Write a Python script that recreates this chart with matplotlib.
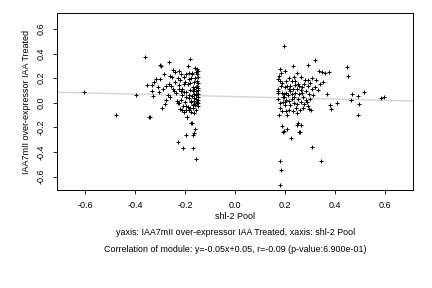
import matplotlib
matplotlib.use("Agg")
import matplotlib.pyplot as plt
import numpy as np

plt.rcParams['font.family'] = ['Liberation Sans', 'DejaVu Sans']

# left cluster (negative x)
left_x = [-0.603, -0.475, -0.395, -0.359, -0.341, -0.351, -0.333, -0.333, -0.329, -0.325,
          -0.316, -0.300, -0.303, -0.283, -0.291, -0.277, -0.279, -0.300, -0.297, -0.263,
          -0.264, -0.260, -0.255, -0.268, -0.248, -0.239, -0.225, -0.252, -0.240, -0.248,
          -0.243, -0.235, -0.225, -0.220, -0.217, -0.211, -0.205, -0.204, -0.224, -0.221,
          -0.211, -0.205, -0.191, -0.183, -0.177, -0.181, -0.189, -0.183, -0.172, -0.160,
          -0.151, -0.156, -0.152, -0.176, -0.172, -0.195, -0.167, -0.164, -0.159, -0.227,
          -0.209, -0.168, -0.155, -0.197, -0.171, -0.343, -0.191, -0.233, -0.217, -0.196,
          -0.187, -0.181, -0.167, -0.160, -0.153, -0.147, -0.210, -0.176, -0.165, -0.200,
          -0.190, -0.180, -0.165, -0.153, -0.147, -0.156, -0.147, -0.225, -0.215, -0.205,
          -0.195, -0.180, -0.170, -0.163, -0.154, -0.148, -0.158, -0.211, -0.186, -0.186,
          -0.166, -0.157, -0.148, -0.152, -0.229, -0.199, -0.176, -0.165, -0.195, -0.150,
          -0.158, -0.150, -0.170, -0.160, -0.150, -0.148, -0.175, -0.185, -0.165, -0.151,
          -0.172, -0.163, -0.158, -0.150, -0.170, -0.198, -0.230, -0.215, -0.260, -0.275,
          -0.290, -0.310]
left_y = [0.085, -0.098, 0.063, 0.375, -0.115, 0.145, 0.145, 0.098, 0.055, 0.170,
          0.190, 0.190, 0.085, 0.230, -0.041, 0.022, -0.014, 0.303, 0.300, 0.334,
          0.156, 0.044, 0.139, 0.066, 0.270, 0.248, 0.257, 0.207, 0.172, 0.115,
          0.098, 0.082, 0.145, 0.186, 0.096, 0.115, 0.213, 0.153, -0.003, -0.049,
          -0.057, -0.074, -0.117, -0.060, 0.014, 0.352, 0.300, 0.243, 0.238, 0.281,
          0.276, 0.248, 0.230, -0.166, -0.163, -0.265, -0.260, -0.248, -0.216, -0.320,
          -0.366, -0.366, -0.459, 0.235, 0.235, -0.112, -0.112, 0.016, 0.026, -0.030,
          -0.035, -0.046, -0.040, -0.018, 0.000, -0.005, -0.026, -0.076, -0.080, 0.167,
          0.150, 0.160, 0.170, 0.179, 0.158, 0.130, 0.117, 0.108, 0.098, 0.090,
          0.088, 0.104, 0.092, 0.075, 0.070, 0.074, 0.062, 0.066, 0.066, 0.040,
          0.040, 0.030, 0.022, 0.003, 0.000, 0.008, 0.009, 0.012, 0.048, 0.050,
          0.095, 0.100, 0.130, 0.205, 0.210, 0.258, 0.200, 0.195, 0.115, 0.140,
          0.055, -0.010, -0.062, -0.025, -0.020, -0.055, 0.200, 0.230, 0.220, 0.140,
          0.110, 0.130]

# right cluster (positive x)
right_x = [0.197, 0.319, 0.293, 0.232, 0.181, 0.199, 0.184, 0.447, 0.452, 0.337,
           0.349, 0.360, 0.377, 0.249, 0.177, 0.173, 0.205, 0.227, 0.241, 0.251,
           0.257, 0.265, 0.281, 0.292, 0.308, 0.325, 0.353, 0.188, 0.209, 0.221,
           0.239, 0.268, 0.307, 0.319, 0.333, 0.173, 0.173, 0.173, 0.187, 0.195,
           0.204, 0.220, 0.228, 0.241, 0.257, 0.268, 0.284, 0.297, 0.369, 0.469,
           0.493, 0.516, 0.465, 0.584, 0.596, 0.173, 0.192, 0.205, 0.215, 0.229,
           0.252, 0.284, 0.289, 0.181, 0.201, 0.220, 0.249, 0.273, 0.295, 0.303,
           0.181, 0.187, 0.205, 0.216, 0.249, 0.176, 0.209, 0.381, 0.383, 0.408,
           0.496, 0.493, 0.253, 0.263, 0.248, 0.189, 0.209, 0.195, 0.225, 0.309,
           0.180, 0.344, 0.185, 0.180, 0.192, 0.257, 0.261, 0.210, 0.236, 0.214,
           0.200, 0.230, 0.262, 0.276, 0.290, 0.190, 0.235, 0.262, 0.272, 0.245,
           0.230, 0.260, 0.198, 0.180, 0.215, 0.183, 0.275, 0.300, 0.290, 0.236,
           0.195, 0.300, 0.340, 0.310, 0.246]
right_y = [0.459, 0.344, 0.306, 0.295, 0.276, 0.262, 0.240, 0.287, 0.221, 0.262,
           0.246, 0.238, 0.246, 0.238, 0.221, 0.194, 0.180, 0.178, 0.175, 0.153,
           0.137, 0.213, 0.189, 0.189, 0.202, 0.189, 0.172, 0.158, 0.139, 0.134,
           0.148, 0.131, 0.115, 0.125, 0.107, 0.112, 0.098, 0.080, 0.082, 0.071,
           0.076, 0.093, 0.071, 0.080, 0.071, 0.080, 0.098, 0.071, 0.071, 0.074,
           0.057, 0.084, 0.025, 0.035, 0.049, 0.030, 0.049, 0.025, 0.016, 0.027,
           0.033, 0.022, 0.008, -0.006, 0.006, -0.019, -0.011, -0.043, -0.049, -0.057,
           -0.039, -0.066, -0.066, -0.057, -0.082, -0.101, -0.101, -0.019, -0.052, 0.000,
           -0.008, -0.098, -0.164, -0.180, -0.180, -0.191, -0.210, -0.230, -0.284, -0.358,
           -0.470, -0.470, -0.547, -0.666, -0.238, -0.238, -0.238, 0.060, 0.050, 0.110,
           0.125, 0.115, 0.100, 0.150, 0.140, 0.010, 0.000, 0.010, 0.050, -0.040,
           -0.070, -0.060, -0.020, 0.180, 0.205, 0.140, -0.010, 0.030, -0.030, 0.210,
           0.045, 0.160, 0.150, 0.060, 0.110]

slope = -0.05
intercept = 0.05

x = np.array(left_x + right_x)
y = np.array(left_y + right_y)

fig = plt.figure(figsize=(4.32, 2.88), dpi=100)
ax = fig.add_axes([0.132, 0.34, 0.824, 0.615])

xlim = (-0.712, 0.712)
ax.set_xlim(xlim)
ax.set_ylim(-0.71, 0.73)

lx = np.array(xlim)
ax.plot(lx, slope * lx + intercept, color="#d4d4d4", lw=1.0, zorder=1)
ax.plot(x, y, linestyle="none", marker="+", color="black",
        markersize=3.5, markeredgewidth=0.7, zorder=2)

ax.set_xticks([-0.6, -0.4, -0.2, 0.0, 0.2, 0.4, 0.6])
ax.set_yticks([-0.6, -0.4, -0.2, 0.0, 0.2, 0.4, 0.6])
ax.set_xticklabels(["-0.6", "-0.4", "-0.2", "0.0", "0.2", "0.4", "0.6"])
ax.set_yticklabels(["-0.6", "-0.4", "-0.2", "0.0", "0.2", "0.4", "0.6"],
                   rotation=90, va="center")
ax.tick_params(direction="out", length=3, width=0.6, labelsize=6.5, pad=5)
for s in ax.spines.values():
    s.set_linewidth(0.7)

ax.set_xlabel("shl-2 Pool", fontsize=6.5, labelpad=1.5)
ax.set_ylabel("IAA7mII over-expressor IAA Treated", fontsize=6.5, labelpad=4)

fig.text(0.545, 0.191, "yaxis: IAA7mII over-expressor IAA Treated, xaxis: shl-2 Pool",
         ha="center", va="center", fontsize=6.4)
fig.text(0.545, 0.132,
         "Correlation of module: y=-0.05x+0.05, r=-0.09 (p-value:6.900e-01)",
         ha="center", va="center", fontsize=6.4)

fig.savefig("out.png", dpi=100)
